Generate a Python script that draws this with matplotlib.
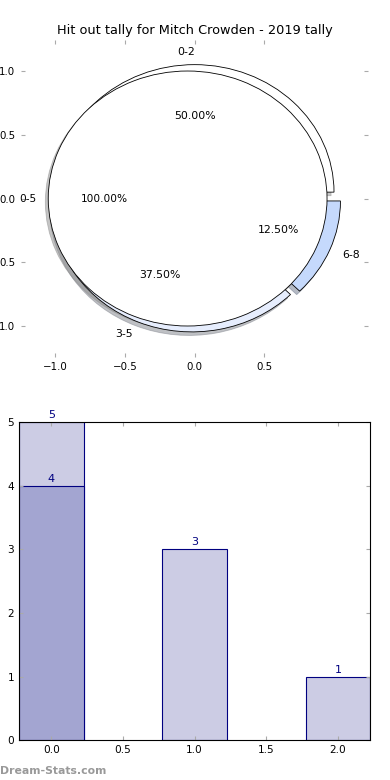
import matplotlib
matplotlib.use('Agg')
import matplotlib.pyplot as plt

# hit out tally data
pie_labels = ['0-2', '3-5', '6-8']
pie_values = [4, 3, 1]
pie_colors = ['#ffffff', '#e6edfd', '#c5d9fc']
total_label = ['0-5']
total_value = [8]

bar_x = [0, 1, 2]
bar_values = [5, 3, 1]
top_x = [0]
top_values = [4]

titulo = 'Hit out tally for Mitch Crowden - 2019 tally'

plt.rcParams['font.family'] = 'DejaVu Sans'
plt.rcParams['font.size'] = 8

fig = plt.figure(figsize=(3.9, 7.8), dpi=100)

sombra = {'ox': -0.015, 'oy': -0.02, 'shade': 0.45}

# pie chart
ax1 = fig.add_axes([0.054, 0.542, 0.89, 0.407])
ax1.pie(pie_values, labels=pie_labels, colors=pie_colors, explode=[0.05] * 3,
        autopct='%.2f%%', shadow=sombra, startangle=0,
        wedgeprops={'edgecolor': 'black', 'linewidth': 0.6},
        textprops={'fontsize': 7.8})
ax1.pie(total_value, labels=total_label, colors=['#ffffff'], explode=[0.05],
        autopct='%.2f%%', shadow=sombra, startangle=0, labeldistance=1.085,
        wedgeprops={'edgecolor': 'black', 'linewidth': 0.6},
        textprops={'fontsize': 7.6})
ax1.set_aspect('auto')
ax1.set_xlim(-1.245, 1.245)
ax1.set_ylim(-1.245, 1.245)
ax1.set_xticks([-1.0, -0.5, 0.0, 0.5])
ax1.set_yticks([-1.0, -0.5, 0.0, 0.5, 1.0])
ax1.set_yticklabels(['1.0', '0.5', '0.0', '0.5', '1.0'])
ax1.set_frame_on(False)
ax1.tick_params(direction='in', length=3, color='#aaaaaa', top=True, right=True, labelsize=7.4)
ax1.tick_params(axis='y', pad=4)
ax1.set_title(titulo, fontsize=9.3, pad=4)

# bar chart
ax2 = fig.add_axes([0.049, 0.051, 0.9, 0.408])
barras = ax2.bar(bar_x, bar_values, width=0.45, color='#ccccE4', edgecolor='#000080', linewidth=0.8)
barras2 = ax2.bar(top_x, top_values, width=0.45, color='#a3a5d1', edgecolor='#000080', linewidth=0.8)
for b in list(barras) + list(barras2):
    ax2.text(b.get_x() + b.get_width() / 2, b.get_height() + 0.03, str(int(b.get_height())),
             ha='center', va='bottom', color='#000080', fontsize=8)
ax2.set_xlim(-0.225, 2.225)
ax2.set_ylim(0, 5)
ax2.set_xticks([0.0, 0.5, 1.0, 1.5, 2.0])
ax2.set_yticks([0, 1, 2, 3, 4, 5])
ax2.tick_params(direction='in', length=3, color='#aaaaaa', top=True, right=True, labelsize=7.6)
for s in ax2.spines.values():
    s.set_linewidth(0.8)

fig.text(0.0, 0.008, 'Dream-Stats.com', color='#999999', fontsize=7.8, fontweight='bold')

plt.savefig('out.png', dpi=100)
plt.close()
